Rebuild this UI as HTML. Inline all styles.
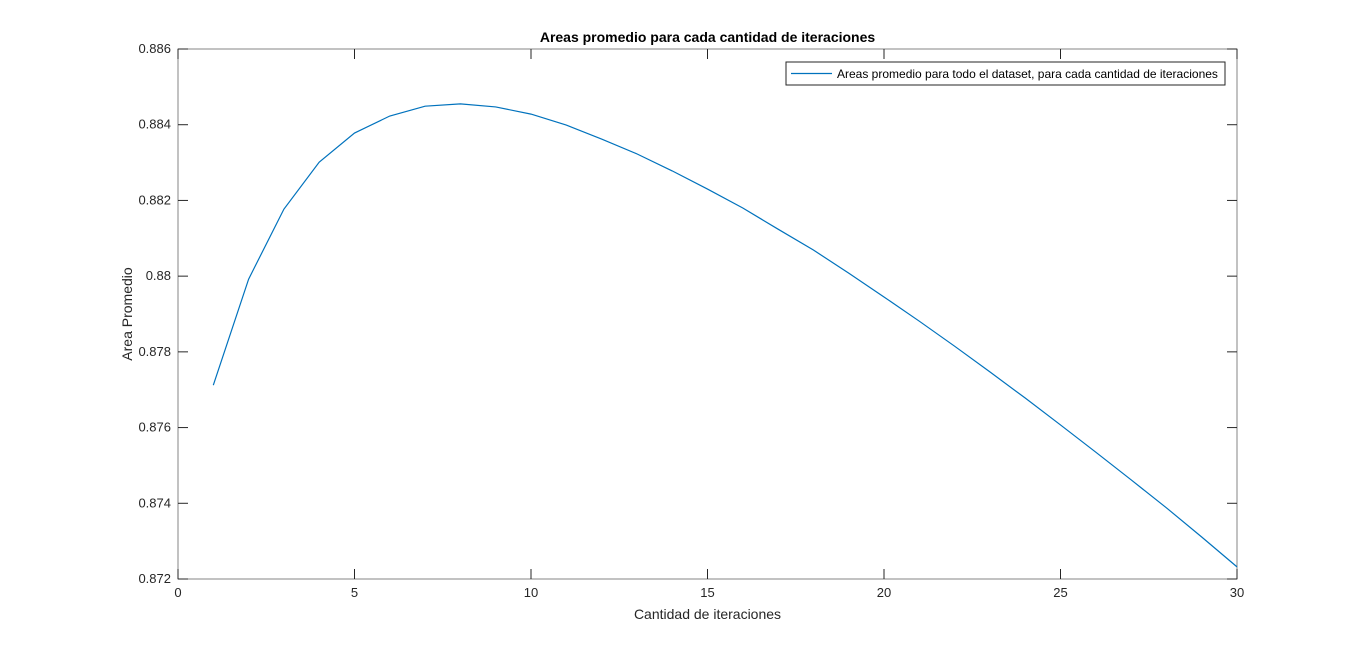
<!DOCTYPE html>
<html><head><meta charset="utf-8"><style>
body{margin:0;background:#fff;}
svg{display:block;font-family:"Liberation Sans",Arial,sans-serif;}
</style></head><body>
<svg id="chart" width="1366" height="651"></svg>
<script>
const xValues=[1,2,3,4,5,6,7,8,9,10,11,12,13,14,15,16,17,18,19,20,21,22,23,24,25,26,27,28,29,30];
const areaValues=[0.87712,0.87992,0.88177,0.88301,0.88378,0.88423,0.88449,0.88455,0.88447,0.88428,0.88399,0.88362,0.88323,0.88278,0.88230,0.88180,0.88124,0.88069,0.88008,0.87945,0.87881,0.87815,0.87747,0.87678,0.87607,0.87535,0.87462,0.87388,0.87311,0.87232];
const xTicks=[0,5,10,15,20,25,30];
const yTicks=[0.872,0.874,0.876,0.878,0.88,0.882,0.884,0.886];
const yTickLabels=["0.872","0.874","0.876","0.878","0.88","0.882","0.884","0.886"];

const L=178,R=1237,T=49,B=579;
const xs=v=>L+(v-0)/(30-0)*(R-L);
const ys=v=>B-(v-0.872)/(0.886-0.872)*(B-T);
const NS="http://www.w3.org/2000/svg";
const svg=document.getElementById('chart');
function mk(tag,attrs,parent){const e=document.createElementNS(NS,tag);for(const k in attrs)e.setAttribute(k,attrs[k]);(parent||svg).appendChild(e);return e;}

const axes=mk('rect',{x:L,y:T,width:R-L,height:B-T,fill:'#fff',stroke:'#858585','stroke-width':1});



xTicks.forEach(t=>{
  const x=xs(t);
  mk('line',{x1:x,y1:B,x2:x,y2:B-10,stroke:'#262626'});
  mk('line',{x1:x,y1:T,x2:x,y2:T+10,stroke:'#262626'});
  const tx=mk('text',{x:x,y:B+18,'text-anchor':'middle','font-size':13,fill:'#262626'});
  tx.textContent=String(t);
  
  
});
yTicks.forEach((t,i)=>{
  const y=ys(t);
  mk('line',{x1:L,y1:y,x2:L+10,y2:y,stroke:'#262626'});
  mk('line',{x1:R,y1:y,x2:R-10,y2:y,stroke:'#262626'});
  const ty=mk('text',{x:L-7,y:y+4,'text-anchor':'end','font-size':13,fill:'#262626'});
  ty.textContent=yTickLabels[i];
  
  
});

const pts=xValues.map((x,i)=>xs(x).toFixed(2)+','+ys(areaValues[i]).toFixed(2)).join(' ');
const line=mk('polyline',{points:pts,fill:'none',stroke:'#0072BD','stroke-width':1.2});



const title=mk('text',{x:(L+R)/2,y:42,'text-anchor':'middle','font-size':14,'font-weight':'bold',fill:'#000'});
title.textContent='Areas promedio para cada cantidad de iteraciones';



const xl=mk('text',{x:(L+R)/2,y:619,'text-anchor':'middle','font-size':14,fill:'#262626'});
xl.textContent='Cantidad de iteraciones';



const yl=mk('text',{x:0,y:0,'text-anchor':'middle','font-size':14,fill:'#262626',transform:'translate(132,314) rotate(-90)'});
yl.textContent='Area Promedio';



const lg=mk('g',{});


mk('rect',{x:786,y:62,width:439,height:23,fill:'#fff',stroke:'#262626','stroke-width':1},lg);
mk('line',{x1:791,y1:73.5,x2:832,y2:73.5,stroke:'#0072BD','stroke-width':1.2},lg);
const lt=mk('text',{x:837,y:78,'font-size':12,fill:'#000'},lg);
lt.textContent='Areas promedio para todo el dataset, para cada cantidad de iteraciones';


</script>
</body></html>
